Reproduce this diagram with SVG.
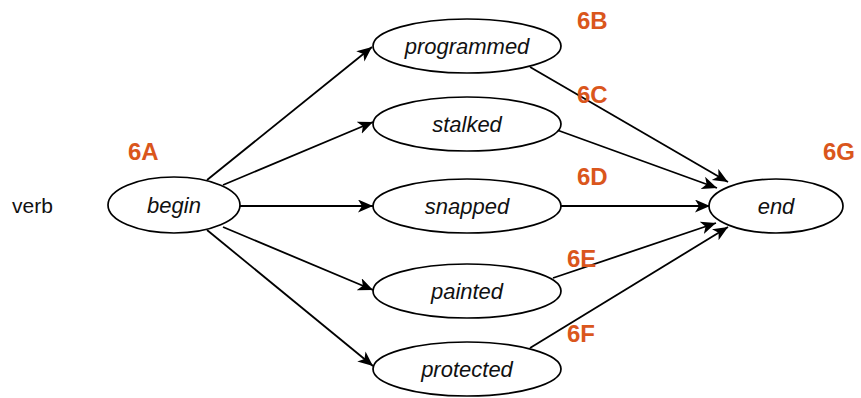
<svg xmlns="http://www.w3.org/2000/svg" width="861" height="398" viewBox="0 0 861 398">
<defs>
<marker id="arr" markerWidth="16" markerHeight="14" refX="15" refY="6.5" orient="auto" markerUnits="userSpaceOnUse">
<path d="M0,0 L15,6.5 L0,13 L4,6.5 Z" fill="#000"/>
</marker>
<style>
.n ellipse{fill:#fff;stroke:#000;stroke-width:1.7}
.n text{font-family:"Liberation Sans",Arial,sans-serif;font-style:italic;font-size:22px;fill:#111;text-anchor:middle}
.e line{stroke:#000;stroke-width:1.8;marker-end:url(#arr)}
.lab{font-family:"Liberation Sans",Arial,sans-serif;font-weight:bold;font-size:24px;fill:#DA561C}
.plain{font-family:"Liberation Sans",Arial,sans-serif;font-size:21px;fill:#111}
</style>
</defs>
<rect width="861" height="398" fill="#fff"/>
<g id="connectors" class="e">
<line x1="207" y1="180" x2="372" y2="47"/>
<line x1="223" y1="185" x2="373" y2="122"/>
<line x1="240" y1="206" x2="373" y2="206"/>
<line x1="223" y1="227" x2="373" y2="290"/>
<line x1="207" y1="230" x2="373" y2="366"/>
<line x1="530" y1="67" x2="728" y2="182"/>
<line x1="557" y1="130" x2="717" y2="188"/>
<line x1="560" y1="206" x2="710" y2="206"/>
<line x1="553" y1="278" x2="716" y2="223"/>
<line x1="530" y1="348" x2="728" y2="227"/>
</g>
<g id="node-begin" class="n"><ellipse cx="174" cy="205" rx="66" ry="28"/><text x="174" y="213">begin</text></g>
<g id="node-programmed" class="n"><ellipse cx="467" cy="46" rx="94" ry="27"/><text x="467" y="54">programmed</text></g>
<g id="node-stalked" class="n"><ellipse cx="467" cy="124" rx="94" ry="27"/><text x="467" y="132">stalked</text></g>
<g id="node-snapped" class="n"><ellipse cx="467" cy="206" rx="94" ry="27"/><text x="467" y="214">snapped</text></g>
<g id="node-painted" class="n"><ellipse cx="467" cy="291" rx="94" ry="27"/><text x="467" y="299">painted</text></g>
<g id="node-protected" class="n"><ellipse cx="467" cy="369" rx="94" ry="27"/><text x="467" y="377">protected</text></g>
<g id="node-end" class="n"><ellipse cx="776" cy="206" rx="67" ry="27"/><text x="776" y="214">end</text></g>
<text class="plain" x="12" y="213">verb</text>
<g id="labels">
<text class="lab" x="128" y="160">6A</text>
<text class="lab" x="577" y="29">6B</text>
<text class="lab" x="577" y="103">6C</text>
<text class="lab" x="577" y="185">6D</text>
<text class="lab" x="567" y="267">6E</text>
<text class="lab" x="567" y="342">6F</text>
<text class="lab" x="823" y="160">6G</text>
</g>
</svg>
